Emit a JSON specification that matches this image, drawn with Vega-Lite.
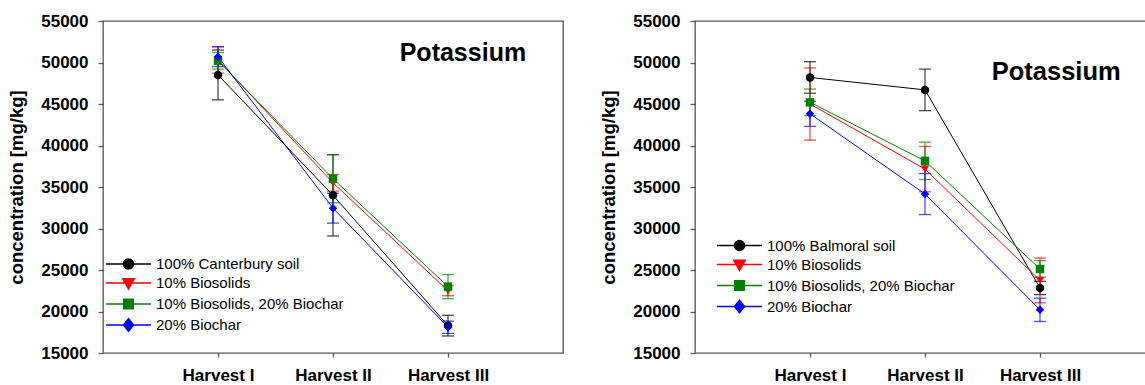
{
  "$schema": "https://vega.github.io/schema/vega-lite/v6.json",
  "background": "white",
  "padding": {"left": 7, "top": 11, "right": 0, "bottom": 0},
  "config": {
    "font": "Liberation Sans",
    "view": {"stroke": "#555555", "strokeWidth": 1.3},
    "axis": {
      "grid": false,
      "domain": false,
      "tickColor": "#555555",
      "tickWidth": 1.3,
      "labelFont": "Liberation Sans",
      "labelFontWeight": "bold",
      "labelFontSize": 17,
      "labelColor": "black",
      "titleFont": "Liberation Sans",
      "titleFontSize": 18.5,
      "titleFontWeight": "bold",
      "titleColor": "black"
    },
    "legend": {"padding": 0, "labelLimit": 400}
  },
  "datasets": {
    "canterbury": [
      {"harvest": 1, "series": "100% Canterbury soil", "K": 48500, "err": 3000},
      {"harvest": 2, "series": "100% Canterbury soil", "K": 34000, "err": 4900},
      {"harvest": 3, "series": "100% Canterbury soil", "K": 18300, "err": 1250},
      {"harvest": 1, "series": "10% Biosolids", "K": 50300, "err": 1600},
      {"harvest": 2, "series": "10% Biosolids", "K": 35500, "err": 1000},
      {"harvest": 3, "series": "10% Biosolids", "K": 22500, "err": 600},
      {"harvest": 1, "series": "10% Biosolids, 20% Biochar", "K": 50200, "err": 1000},
      {"harvest": 2, "series": "10% Biosolids, 20% Biochar", "K": 36000, "err": 2900},
      {"harvest": 3, "series": "10% Biosolids, 20% Biochar", "K": 23000, "err": 1450},
      {"harvest": 1, "series": "20% Biochar", "K": 50700, "err": 1200},
      {"harvest": 2, "series": "20% Biochar", "K": 32450, "err": 1800},
      {"harvest": 3, "series": "20% Biochar", "K": 18100, "err": 750}
    ],
    "balmoral": [
      {"harvest": 1, "series": "100% Balmoral soil", "K": 48200, "err": 1900},
      {"harvest": 2, "series": "100% Balmoral soil", "K": 46700, "err": 2500},
      {"harvest": 3, "series": "100% Balmoral soil", "K": 22830, "err": 800},
      {"harvest": 1, "series": "10% Biosolids", "K": 45000, "err": 4350},
      {"harvest": 2, "series": "10% Biosolids", "K": 37150, "err": 2730},
      {"harvest": 3, "series": "10% Biosolids", "K": 23750, "err": 2700},
      {"harvest": 1, "series": "10% Biosolids, 20% Biochar", "K": 45200, "err": 1600},
      {"harvest": 2, "series": "10% Biosolids, 20% Biochar", "K": 38150, "err": 2250},
      {"harvest": 3, "series": "10% Biosolids, 20% Biochar", "K": 25120, "err": 1000},
      {"harvest": 1, "series": "20% Biochar", "K": 43820, "err": 1520},
      {"harvest": 2, "series": "20% Biochar", "K": 34150, "err": 2470},
      {"harvest": 3, "series": "20% Biochar", "K": 20200, "err": 1400}
    ]
  },
  "hconcat": [
    {
      "width": 460,
      "height": 332,
      "data": {"name": "canterbury"},
      "encoding": {
        "x": {
          "field": "harvest", "type": "quantitative",
          "scale": {"domain": [0, 4], "nice": false, "zero": false},
          "axis": {"title": null, "values": [1, 2, 3], "tickSize": 4, "labelPadding": 10,
                   "labelExpr": "datum.value == 1 ? 'Harvest I' : datum.value == 2 ? 'Harvest II' : 'Harvest III'"}
        },
        "y": {
          "field": "K", "type": "quantitative",
          "scale": {"domain": [15000, 55000], "nice": false, "zero": false},
          "axis": {"title": "concentration [mg/kg]", "values": [15000, 20000, 25000, 30000, 35000, 40000, 45000, 50000, 55000],
                   "format": "d", "tickSize": 5, "labelPadding": 10, "titlePadding": 14}
        }
      },
      "layer": [
        {
          "mark": {"type": "errorbar", "ticks": {"size": 12, "thickness": 1.3}, "thickness": 1.3, "opacity": 0.7},
          "encoding": {
            "yError": {"field": "err"},
            "color": {"field": "series", "type": "nominal", "legend": null,
                      "scale": {"domain": ["100% Canterbury soil", "10% Biosolids", "10% Biosolids, 20% Biochar", "20% Biochar"],
                                "range": ["#000000", "#ff0000", "#008000", "#0000ff"]}}
          }
        },
        {
          "mark": {"type": "line", "strokeWidth": 1},
          "encoding": {"color": {"field": "series", "type": "nominal", "legend": null}}
        },
        {
          "mark": {"type": "point", "filled": true, "size": 72, "opacity": 1},
          "encoding": {
            "color": {"field": "series", "type": "nominal", "legend": null},
            "shape": {
              "field": "series", "type": "nominal", "legend": null,
              "scale": {"domain": ["100% Canterbury soil", "10% Biosolids", "10% Biosolids, 20% Biochar", "20% Biochar"],
                        "range": ["circle", "triangle-down", "square", "diamond"]}
            }
          }
        },
        {
          "name": "key_canterbury",
          "transform": [{"filter": "false"}],
          "mark": {"type": "point", "filled": true, "size": 64, "opacity": 1, "strokeWidth": 1},
          "encoding": {
            "fill": {
              "field": "series", "type": "nominal",
              "scale": {"domain": ["100% Canterbury soil", "10% Biosolids", "10% Biosolids, 20% Biochar", "20% Biochar"],
                        "range": ["#000000", "#ff0000", "#008000", "#0000ff"]},
              "legend": {"title": null, "orient": "none", "legendX": 18, "legendY": 235.5,
                         "labelFontSize": 15, "labelFont": "Liberation Sans", "labelColor": "black",
                         "rowPadding": 3, "symbolOffset": 0, "labelOffset": 20}
            },
            "stroke": {
              "field": "series", "type": "nominal",
              "scale": {"domain": ["100% Canterbury soil", "10% Biosolids", "10% Biosolids, 20% Biochar", "20% Biochar"],
                        "range": ["#000000", "#ff0000", "#008000", "#0000ff"]},
              "legend": {"title": null, "orient": "none", "legendX": 18, "legendY": 235.5,
                         "labelFontSize": 15, "labelFont": "Liberation Sans", "labelColor": "black",
                         "rowPadding": 3, "symbolOffset": 0, "labelOffset": 20}
            },
            "shape": {
              "field": "series", "type": "nominal",
              "scale": {"domain": ["100% Canterbury soil", "10% Biosolids", "10% Biosolids, 20% Biochar", "20% Biochar"],
                        "range": ["M-4.5,0H4.5M1,0A1,1,0,1,1,-1,0A1,1,0,1,1,1,0Z",
                                  "M-4.5,0H4.5M-1.15,-0.85L1.15,-0.85L0,1.2Z",
                                  "M-4.5,0H4.5M-0.95,-0.95H0.95V0.95H-0.95Z",
                                  "M-4.5,0H4.5M0,-1.25L1,0L0,1.25L-1,0Z"]},
              "legend": {"title": null, "orient": "none", "legendX": 18, "legendY": 235.5,
                         "labelFontSize": 15, "labelFont": "Liberation Sans", "labelColor": "black",
                         "rowPadding": 3, "symbolOffset": 0, "labelOffset": 20}
            }
          }
        },
        {
          "data": {"values": [{"harvest": 2.58, "K": 50200, "label": "Potassium"}]},
          "mark": {"type": "text", "fontSize": 25, "fontWeight": "bold", "align": "left", "baseline": "alphabetic", "color": "black"},
          "encoding": {"text": {"field": "label"}}
        }
      ],
      "resolve": {"scale": {"shape": "independent", "fill": "independent", "stroke": "independent"}}
    },
    {
      "width": 460,
      "height": 332,
      "data": {"name": "balmoral"},
      "encoding": {
        "x": {
          "field": "harvest", "type": "quantitative",
          "scale": {"domain": [0, 4], "nice": false, "zero": false},
          "axis": {"title": null, "values": [1, 2, 3], "tickSize": 4, "labelPadding": 10,
                   "labelExpr": "datum.value == 1 ? 'Harvest I' : datum.value == 2 ? 'Harvest II' : 'Harvest III'"}
        },
        "y": {
          "field": "K", "type": "quantitative",
          "scale": {"domain": [15000, 55000], "nice": false, "zero": false},
          "axis": {"title": "concentration [mg/kg]", "values": [15000, 20000, 25000, 30000, 35000, 40000, 45000, 50000, 55000],
                   "format": "d", "tickSize": 5, "labelPadding": 10, "titlePadding": 14}
        }
      },
      "layer": [
        {
          "mark": {"type": "errorbar", "ticks": {"size": 12, "thickness": 1.3}, "thickness": 1.3, "opacity": 0.7},
          "encoding": {
            "yError": {"field": "err"},
            "color": {"field": "series", "type": "nominal", "legend": null,
                      "scale": {"domain": ["100% Balmoral soil", "10% Biosolids", "10% Biosolids, 20% Biochar", "20% Biochar"],
                                "range": ["#000000", "#ff0000", "#008000", "#0000ff"]}}
          }
        },
        {
          "mark": {"type": "line", "strokeWidth": 1},
          "encoding": {"color": {"field": "series", "type": "nominal", "legend": null}}
        },
        {
          "mark": {"type": "point", "filled": true, "size": 72, "opacity": 1},
          "encoding": {
            "color": {"field": "series", "type": "nominal", "legend": null},
            "shape": {
              "field": "series", "type": "nominal", "legend": null,
              "scale": {"domain": ["100% Balmoral soil", "10% Biosolids", "10% Biosolids, 20% Biochar", "20% Biochar"],
                        "range": ["circle", "triangle-down", "square", "diamond"]}
            }
          }
        },
        {
          "name": "key_balmoral",
          "transform": [{"filter": "false"}],
          "mark": {"type": "point", "filled": true, "size": 64, "opacity": 1, "strokeWidth": 1},
          "encoding": {
            "fill": {
              "field": "series", "type": "nominal",
              "scale": {"domain": ["100% Balmoral soil", "10% Biosolids", "10% Biosolids, 20% Biochar", "20% Biochar"],
                        "range": ["#000000", "#ff0000", "#008000", "#0000ff"]},
              "legend": {"title": null, "orient": "none", "legendX": 37, "legendY": 217,
                         "labelFontSize": 15, "labelFont": "Liberation Sans", "labelColor": "black",
                         "rowPadding": 3, "symbolOffset": 0, "labelOffset": 20}
            },
            "stroke": {
              "field": "series", "type": "nominal",
              "scale": {"domain": ["100% Balmoral soil", "10% Biosolids", "10% Biosolids, 20% Biochar", "20% Biochar"],
                        "range": ["#000000", "#ff0000", "#008000", "#0000ff"]},
              "legend": {"title": null, "orient": "none", "legendX": 37, "legendY": 217,
                         "labelFontSize": 15, "labelFont": "Liberation Sans", "labelColor": "black",
                         "rowPadding": 3, "symbolOffset": 0, "labelOffset": 20}
            },
            "shape": {
              "field": "series", "type": "nominal",
              "scale": {"domain": ["100% Balmoral soil", "10% Biosolids", "10% Biosolids, 20% Biochar", "20% Biochar"],
                        "range": ["M-4.5,0H4.5M1,0A1,1,0,1,1,-1,0A1,1,0,1,1,1,0Z",
                                  "M-4.5,0H4.5M-1.15,-0.85L1.15,-0.85L0,1.2Z",
                                  "M-4.5,0H4.5M-0.95,-0.95H0.95V0.95H-0.95Z",
                                  "M-4.5,0H4.5M0,-1.25L1,0L0,1.25L-1,0Z"]},
              "legend": {"title": null, "orient": "none", "legendX": 37, "legendY": 217,
                         "labelFontSize": 15, "labelFont": "Liberation Sans", "labelColor": "black",
                         "rowPadding": 3, "symbolOffset": 0, "labelOffset": 20}
            }
          }
        },
        {
          "data": {"values": [{"harvest": 2.58, "K": 47920, "label": "Potassium"}]},
          "mark": {"type": "text", "fontSize": 25.5, "fontWeight": "bold", "align": "left", "baseline": "alphabetic", "color": "black"},
          "encoding": {"text": {"field": "label"}}
        }
      ],
      "resolve": {"scale": {"shape": "independent", "fill": "independent", "stroke": "independent"}}
    }
  ],
  "spacing": 35,
  "resolve": {
    "scale": {"color": "independent", "shape": "independent", "fill": "independent", "stroke": "independent"},
    "legend": {"fill": "independent", "stroke": "independent", "shape": "independent"}
  }
}
